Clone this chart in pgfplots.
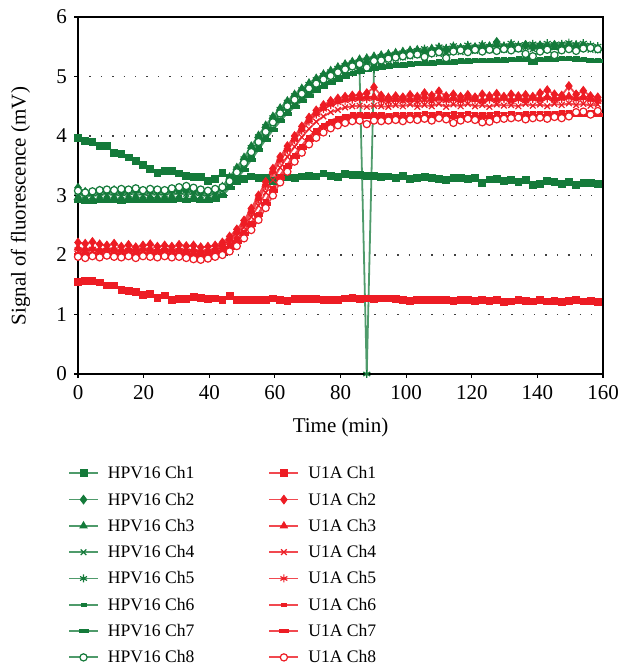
\documentclass[border=0pt]{standalone}
\usepackage{fontspec}
\setmainfont{Liberation Serif}
\usepackage{pgfplots}
\usepackage{pgfplotstable}
\pgfplotsset{compat=1.18}

\definecolor{gm}{RGB}{20,122,58}
\definecolor{rm}{RGB}{237,28,36}
\colorlet{gl}{gm!75!white}
\colorlet{rl}{rm!80!white}

% HPV16 channels
\pgfplotstableread{
t a1 a2 a3 a4 a5 a6 a7 a8
0.0 3.97 3.13 2.97 3.02 3.05 2.93 2.92 3.08
2.2 3.92 3.06 2.94 3.00 3.02 2.91 2.90 3.05
4.4 3.90 3.05 2.93 2.99 3.03 2.90 2.89 3.07
6.6 3.84 3.08 2.95 3.01 3.04 2.92 2.91 3.09
8.8 3.83 3.07 2.96 3.02 3.06 2.93 2.92 3.10
11.0 3.72 3.09 2.95 3.01 3.04 2.93 2.91 3.09
13.2 3.70 3.06 2.94 3.00 3.03 2.92 2.90 3.11
15.4 3.64 3.08 2.96 3.02 3.05 2.93 2.92 3.10
17.6 3.58 3.10 2.97 3.03 3.08 2.94 2.92 3.12
19.8 3.52 3.07 2.95 3.01 3.04 2.93 2.91 3.09
22.0 3.45 3.09 2.96 3.02 3.06 2.94 2.92 3.11
24.2 3.38 3.08 2.95 3.01 3.05 2.93 2.91 3.10
26.4 3.42 3.07 2.96 3.02 3.04 2.93 2.92 3.09
28.6 3.42 3.09 2.97 3.03 3.07 2.94 2.92 3.12
30.8 3.37 3.08 2.96 3.02 3.06 2.94 2.93 3.14
33.0 3.33 3.10 2.94 3.03 3.08 2.93 2.92 3.16
35.2 3.31 3.09 2.96 3.02 3.05 2.94 2.93 3.13
37.4 3.31 3.07 2.93 3.00 3.03 2.92 2.91 3.10
39.6 3.25 3.06 2.94 3.00 3.02 2.92 2.91 3.08
41.8 3.28 3.08 2.98 3.03 3.05 2.94 2.93 3.11
44.0 3.38 3.13 3.15 3.08 3.12 3.02 2.99 3.14
46.2 3.29 3.25 3.31 3.22 3.29 3.16 3.13 3.24
48.4 3.24 3.40 3.47 3.36 3.45 3.30 3.28 3.39
50.6 3.28 3.57 3.64 3.53 3.62 3.46 3.43 3.55
52.8 3.32 3.75 3.83 3.71 3.81 3.63 3.60 3.73
55.0 3.30 3.92 4.01 3.88 3.99 3.80 3.77 3.90
57.2 3.30 4.09 4.18 4.05 4.16 3.97 3.94 4.07
59.4 3.24 4.25 4.33 4.21 4.31 4.13 4.10 4.23
61.6 3.30 4.39 4.47 4.36 4.45 4.28 4.25 4.38
63.8 3.31 4.52 4.59 4.49 4.57 4.41 4.38 4.50
66.0 3.29 4.63 4.70 4.60 4.68 4.52 4.49 4.61
68.2 3.32 4.73 4.80 4.70 4.78 4.62 4.59 4.71
70.4 3.33 4.82 4.89 4.79 4.87 4.71 4.68 4.80
72.6 3.32 4.90 4.97 4.87 4.95 4.79 4.76 4.88
74.8 3.37 4.97 5.04 4.94 5.02 4.86 4.83 4.95
77.0 3.33 5.03 5.10 5.00 5.08 4.92 4.89 5.01
79.2 3.31 5.09 5.16 5.06 5.14 4.98 4.95 5.07
81.4 3.36 5.14 5.21 5.11 5.19 5.03 5.00 5.12
83.6 3.35 5.18 5.25 5.15 5.23 5.07 5.04 5.17
85.8 3.35 5.22 5.29 5.19 5.10 5.11 5.08 5.21
88.0 3.33 5.24 5.31 5.21 0.00 5.14 5.11 5.15
90.2 3.33 5.27 5.34 5.24 5.13 5.16 5.13 5.26
92.4 3.31 5.29 5.36 5.26 5.34 5.18 5.15 5.27
94.6 3.32 5.31 5.38 5.28 5.36 5.20 5.17 5.30
96.8 3.30 5.33 5.40 5.30 5.38 5.21 5.18 5.32
99.0 3.33 5.35 5.42 5.32 5.40 5.22 5.19 5.34
101.2 3.28 5.37 5.44 5.34 5.42 5.23 5.20 5.36
103.4 3.30 5.39 5.45 5.36 5.44 5.24 5.21 5.37
105.6 3.31 5.41 5.44 5.38 5.47 5.25 5.22 5.33
107.8 3.29 5.40 5.47 5.39 5.45 5.25 5.22 5.39
110.0 3.28 5.43 5.49 5.38 5.50 5.26 5.23 5.41
112.2 3.26 5.45 5.46 5.41 5.48 5.26 5.23 5.31
114.4 3.30 5.44 5.50 5.42 5.52 5.27 5.24 5.42
116.6 3.30 5.47 5.48 5.41 5.49 5.28 5.25 5.44
118.8 3.28 5.45 5.51 5.44 5.53 5.28 5.25 5.41
121.0 3.30 5.49 5.49 5.43 5.50 5.29 5.26 5.45
123.2 3.21 5.47 5.52 5.45 5.54 5.29 5.26 5.42
125.4 3.27 5.50 5.51 5.44 5.51 5.29 5.27 5.45
127.6 3.28 5.58 5.53 5.47 5.55 5.30 5.27 5.43
129.8 3.25 5.50 5.50 5.45 5.52 5.30 5.27 5.46
132.0 3.26 5.52 5.54 5.48 5.56 5.30 5.28 5.44
134.2 3.23 5.49 5.51 5.46 5.53 5.31 5.28 5.47
136.4 3.26 5.53 5.53 5.49 5.54 5.31 5.28 5.38
138.6 3.18 5.50 5.50 5.46 5.55 5.26 5.24 5.34
140.8 3.20 5.52 5.52 5.48 5.53 5.30 5.28 5.42
143.0 3.24 5.50 5.51 5.47 5.56 5.31 5.29 5.45
145.2 3.23 5.53 5.49 5.49 5.54 5.31 5.29 5.36
147.4 3.20 5.51 5.52 5.47 5.55 5.32 5.30 5.44
149.6 3.23 5.52 5.50 5.48 5.57 5.32 5.30 5.46
151.8 3.18 5.50 5.53 5.46 5.54 5.31 5.29 5.43
154.0 3.21 5.52 5.51 5.48 5.56 5.30 5.28 5.47
156.2 3.21 5.49 5.49 5.45 5.53 5.29 5.27 5.48
158.4 3.20 5.47 5.47 5.44 5.51 5.28 5.26 5.46
}\hpv

% U1A channels
\pgfplotstableread{
t r1 r2 r3 r4 r5 r6 r7 r8
0.0 1.55 2.21 2.12 2.06 2.09 2.03 2.01 1.97
2.2 1.57 2.19 2.10 2.04 2.07 2.02 2.00 1.95
4.4 1.57 2.22 2.11 2.05 2.10 2.03 2.01 1.98
6.6 1.54 2.18 2.09 2.04 2.06 2.02 2.00 1.96
8.8 1.49 2.16 2.11 2.06 2.08 2.03 2.01 1.99
11.0 1.49 2.19 2.10 2.04 2.09 2.02 2.00 1.97
13.2 1.42 2.14 2.08 2.03 2.05 2.01 1.99 1.96
15.4 1.40 2.17 2.10 2.05 2.08 2.02 2.00 1.98
17.6 1.38 2.13 2.09 2.04 2.06 2.02 2.00 1.95
19.8 1.33 2.16 2.11 2.05 2.07 2.03 2.01 1.98
22.0 1.34 2.18 2.10 2.04 2.09 2.02 2.00 1.97
24.2 1.28 2.14 2.08 2.03 2.06 2.01 1.99 1.96
26.4 1.32 2.16 2.10 2.05 2.08 2.02 2.00 1.98
28.6 1.24 2.14 2.09 2.04 2.06 2.02 2.00 1.96
30.8 1.26 2.17 2.10 2.05 2.08 2.02 2.00 1.97
33.0 1.26 2.15 2.08 2.03 2.07 2.01 1.99 1.95
35.2 1.29 2.16 2.09 2.03 2.06 2.00 1.98 1.93
37.4 1.28 2.13 2.07 2.02 2.05 2.00 1.98 1.92
39.6 1.26 2.14 2.08 2.03 2.06 2.01 1.99 1.94
41.8 1.27 2.16 2.10 2.05 2.08 2.02 2.00 1.97
44.0 1.24 2.21 2.17 2.14 2.14 2.09 2.05 2.00
46.2 1.31 2.31 2.27 2.22 2.24 2.17 2.13 2.06
48.4 1.25 2.43 2.39 2.33 2.36 2.27 2.23 2.15
50.6 1.25 2.58 2.54 2.47 2.51 2.40 2.36 2.28
52.8 1.24 2.78 2.74 2.64 2.71 2.55 2.51 2.42
55.0 1.25 3.00 2.96 2.83 2.93 2.70 2.67 2.59
57.2 1.25 3.23 3.19 3.05 3.16 2.91 2.87 2.79
59.4 1.27 3.45 3.41 3.26 3.38 3.13 3.08 3.00
61.6 1.25 3.65 3.61 3.47 3.58 3.34 3.30 3.22
63.8 1.23 3.83 3.79 3.65 3.76 3.52 3.48 3.40
66.0 1.26 4.00 3.96 3.82 3.93 3.69 3.65 3.57
68.2 1.26 4.16 4.12 3.98 4.09 3.84 3.80 3.72
70.4 1.26 4.31 4.27 4.12 4.24 3.99 3.94 3.86
72.6 1.26 4.43 4.39 4.24 4.36 4.10 4.06 3.97
74.8 1.25 4.52 4.48 4.33 4.45 4.19 4.15 4.06
77.0 1.25 4.59 4.55 4.40 4.52 4.26 4.22 4.13
79.2 1.25 4.63 4.59 4.44 4.56 4.31 4.26 4.18
81.4 1.27 4.66 4.62 4.48 4.59 4.34 4.30 4.22
83.6 1.28 4.68 4.64 4.50 4.61 4.37 4.33 4.25
85.8 1.26 4.69 4.65 4.51 4.62 4.38 4.34 4.26
88.0 1.27 4.72 4.66 4.49 4.62 4.37 4.33 4.20
90.2 1.26 4.82 4.66 4.51 4.63 4.38 4.34 4.26
92.4 1.27 4.68 4.63 4.50 4.59 4.37 4.32 4.25
94.6 1.27 4.64 4.65 4.49 4.57 4.36 4.31 4.26
96.8 1.26 4.67 4.62 4.52 4.60 4.38 4.32 4.27
99.0 1.25 4.65 4.64 4.50 4.58 4.37 4.32 4.25
101.2 1.23 4.69 4.61 4.53 4.61 4.38 4.33 4.28
103.4 1.24 4.66 4.64 4.49 4.57 4.37 4.32 4.27
105.6 1.25 4.72 4.66 4.52 4.60 4.39 4.33 4.29
107.8 1.25 4.68 4.63 4.50 4.58 4.38 4.33 4.26
110.0 1.24 4.75 4.65 4.54 4.62 4.39 4.34 4.30
112.2 1.25 4.67 4.62 4.49 4.59 4.38 4.33 4.28
114.4 1.23 4.70 4.64 4.53 4.61 4.39 4.33 4.22
116.6 1.25 4.66 4.61 4.50 4.58 4.38 4.32 4.26
118.8 1.24 4.69 4.65 4.54 4.62 4.39 4.33 4.29
121.0 1.23 4.65 4.62 4.50 4.60 4.38 4.33 4.27
123.2 1.24 4.70 4.60 4.52 4.58 4.37 4.32 4.23
125.4 1.23 4.67 4.64 4.49 4.61 4.38 4.33 4.24
127.6 1.24 4.71 4.62 4.53 4.59 4.39 4.33 4.28
129.8 1.21 4.66 4.65 4.51 4.62 4.38 4.33 4.29
132.0 1.22 4.70 4.61 4.52 4.58 4.39 4.33 4.30
134.2 1.24 4.67 4.64 4.50 4.61 4.38 4.33 4.31
136.4 1.23 4.69 4.62 4.54 4.59 4.39 4.34 4.28
138.6 1.22 4.66 4.65 4.51 4.62 4.39 4.34 4.30
140.8 1.24 4.72 4.63 4.53 4.60 4.40 4.34 4.31
143.0 1.22 4.77 4.66 4.50 4.63 4.40 4.34 4.29
145.2 1.23 4.70 4.63 4.54 4.60 4.40 4.35 4.32
147.4 1.21 4.68 4.65 4.52 4.62 4.41 4.35 4.30
149.6 1.23 4.84 4.67 4.55 4.64 4.41 4.35 4.33
151.8 1.24 4.70 4.64 4.52 4.61 4.41 4.35 4.40
154.0 1.22 4.76 4.66 4.54 4.63 4.42 4.36 4.41
156.2 1.23 4.67 4.63 4.51 4.60 4.41 4.36 4.36
158.4 1.21 4.65 4.62 4.53 4.58 4.41 4.36 4.42
}\uoa

\pgfplotsset{
  ser/.style={line width=0.9pt},
  gs/.style={ser, color=gl},
  rs/.style={ser, color=rl},
}

\begin{document}
\begin{tikzpicture}[font=\fontsize{10.5}{12.6}\selectfont]
\begin{axis}[
  name=ax,
  scale only axis,
  width=262.5pt, height=178.5pt,
  xmin=0, xmax=160, ymin=0, ymax=6,
  xtick={0,20,...,160}, ytick={0,1,...,6},
  tick align=outside, xtick pos=left, ytick pos=left,
  major tick length=2pt,
  axis line style={line width=0.6pt},
  tick style={black, line width=0.6pt},
  ymajorgrids,
  grid style={black!75, line width=0.7pt, dash pattern=on 0.7pt off 5pt},
  /pgf/number format/assume math mode=true,
  xlabel={Time (min)},
  ylabel={Signal of fluorescence (mV)},
  xlabel style={at={(axis description cs:0.5,0)}, anchor=center, yshift=-26.5pt},
  ylabel style={at={(axis description cs:-0.1095,0.47)}, anchor=center},
  clip=false,
  legend columns=2,
  legend cell align=left,
  legend image code/.code={\draw[mark repeat=2,mark phase=2] plot coordinates {(0cm,0cm) (0.255cm,0cm) (0.51cm,0cm)};},
  legend style={draw=none, fill=none, inner sep=0pt,
    at={(axis description cs:-0.0196,-0.242)}, anchor=north west,
    row sep=0.65pt,
    font=\fontsize{8.8}{10.5}\selectfont,
    nodes={inner sep=1pt, text height=8pt, text depth=2.5pt},
    /tikz/every odd column/.append style={column sep=3.5pt},
    /tikz/every even column/.append style={column sep=36pt}},
]
% interleaved so that the two legend columns read HPV16 | U1A
\addplot[gs, mark=square*, mark size=1.7pt, mark options={draw=gm, fill=gm, line width=0.4pt}] table[x=t, y=a1] {\hpv};
\addlegendentry{HPV16 Ch1}
\addplot[rs, mark=square*, mark size=1.7pt, mark options={draw=rm, fill=rm, line width=0.4pt}] table[x=t, y=r1] {\uoa};
\addlegendentry{U1A Ch1}
\addplot[gs, mark=diamond*, mark size=2.2pt, mark options={draw=gm, fill=gm, line width=0.4pt}] table[x=t, y=a2] {\hpv};
\addlegendentry{HPV16 Ch2}
\addplot[rs, mark=diamond*, mark size=2.2pt, mark options={draw=rm, fill=rm, line width=0.4pt}] table[x=t, y=r2] {\uoa};
\addlegendentry{U1A Ch2}
\addplot[gs, mark=triangle*, mark size=2.1pt, mark options={draw=gm, fill=gm, line width=0.4pt}] table[x=t, y=a3] {\hpv};
\addlegendentry{HPV16 Ch3}
\addplot[rs, mark=triangle*, mark size=2.1pt, mark options={draw=rm, fill=rm, line width=0.4pt}] table[x=t, y=r3] {\uoa};
\addlegendentry{U1A Ch3}
\addplot[gs, mark=x, mark size=2pt, mark options={draw=gm, line width=0.6pt}] table[x=t, y=a4] {\hpv};
\addlegendentry{HPV16 Ch4}
\addplot[rs, mark=x, mark size=2pt, mark options={draw=rm, line width=0.6pt}] table[x=t, y=r4] {\uoa};
\addlegendentry{U1A Ch4}
\addplot[gs, mark=asterisk, mark size=2pt, mark options={draw=gm, line width=0.6pt}] table[x=t, y=a5] {\hpv};
\addlegendentry{HPV16 Ch5}
\addplot[rs, mark=asterisk, mark size=2pt, mark options={draw=rm, line width=0.6pt}] table[x=t, y=r5] {\uoa};
\addlegendentry{U1A Ch5}
\addplot[gs, mark=square*, mark size=1.3pt, mark options={draw=gm, fill=gm, line width=0.2pt, yscale=0.55}] table[x=t, y=a6] {\hpv};
\addlegendentry{HPV16 Ch6}
\addplot[rs, mark=square*, mark size=1.3pt, mark options={draw=rm, fill=rm, line width=0.2pt, yscale=0.55}] table[x=t, y=r6] {\uoa};
\addlegendentry{U1A Ch6}
\addplot[gs, mark=square*, mark size=2.1pt, mark options={draw=gm, fill=gm, line width=0.2pt, yscale=0.36}] table[x=t, y=a7] {\hpv};
\addlegendentry{HPV16 Ch7}
\addplot[rs, mark=square*, mark size=2.1pt, mark options={draw=rm, fill=rm, line width=0.2pt, yscale=0.36}] table[x=t, y=r7] {\uoa};
\addlegendentry{U1A Ch7}
\addplot[gs, mark=*, mark size=1.8pt, mark options={draw=gm, fill=white, line width=0.6pt}] table[x=t, y=a8] {\hpv};
\addlegendentry{HPV16 Ch8}
\addplot[rs, mark=*, mark size=1.8pt, mark options={draw=rm, fill=white, line width=0.6pt}] table[x=t, y=r8] {\uoa};
\addlegendentry{U1A Ch8}
\end{axis}
\pgfresetboundingbox
\path ([xshift=-39pt, yshift=-145.5pt]ax.south west) rectangle ([xshift=9pt, yshift=8.5pt]ax.north east);
\end{tikzpicture}
\end{document}
